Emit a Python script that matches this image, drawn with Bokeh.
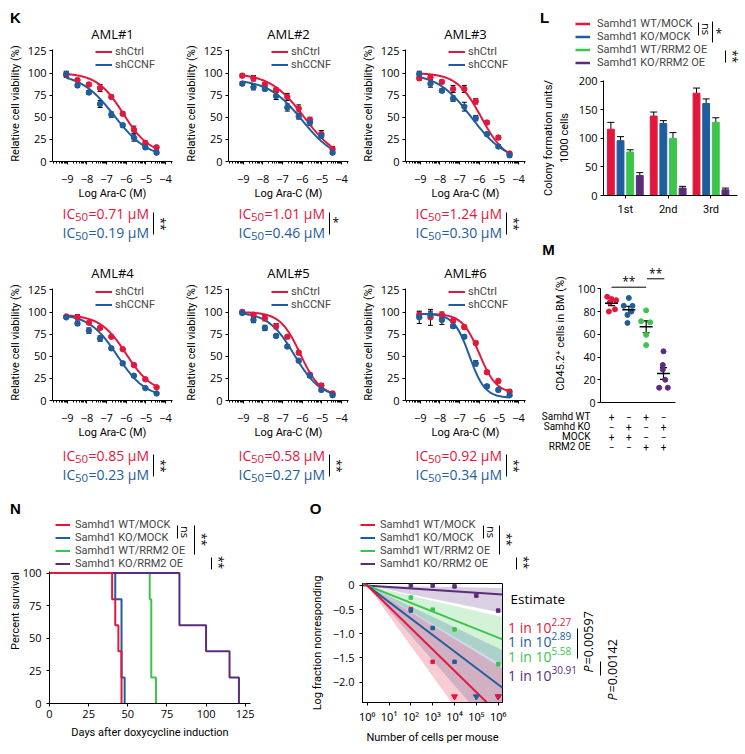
import numpy as np
import pandas as pd
from bokeh.plotting import figure
from bokeh.models import (ColumnDataSource, Label, Legend, LegendItem, Whisker,
                          TeeHead, Arrow, FixedTicker, Range1d)
from bokeh.layouts import row, column
from bokeh.embed import file_html
from bokeh.resources import INLINE

# ======================= DATA =======================
# ---- K: dose response ----
log_dose = [-9.05, -8.48, -7.90, -7.33, -6.76, -6.18, -5.61, -5.03, -4.46]
aml_names = ["AML#1", "AML#2", "AML#3", "AML#4", "AML#5", "AML#6"]
shctrl_viability = [
    [98, 92, 87, 83, 73, 54, 36, 21, 16],
    [97, 94, 87, 81, 73, 60, 47, 31, 14],
    [94, 95, 90, 82, 82, 68, 44, 27, 9],
    [95, 94, 88, 82, 72, 58, 40, 24, 15],
    [100, 97, 93, 84, 72, 54, 29, 17, 8],
    [97, 94, 97, 90, 83, 65, 32, 22, 10],
]
shctrl_sem = [
    [3, 2, 2, 4, 2, 2, 4, 2, 2],
    [2, 3, 2, 2, 4, 4, 3, 4, 3],
    [2, 2, 2, 4, 4, 3, 2, 2, 2],
    [1, 3, 1, 2, 1, 1, 1, 1, 1],
    [2, 2, 3, 3, 2, 2, 2, 2, 1],
    [3, 9, 3, 2, 2, 2, 2, 2, 2],
]
shccnf_viability = [
    [99, 86, 78, 65, 53, 41, 27, 16, 10],
    [88, 84, 82, 74, 61, 51, 44, 29, 10],
    [99, 88, 80, 71, 62, 49, 31, 17, 7],
    [94, 87, 79, 70, 59, 42, 28, 14, 8],
    [99, 91, 82, 73, 61, 45, 28, 12, 6],
    [94, 97, 91, 84, 72, 42, 16, 12, 6],
]
shccnf_sem = [
    [3, 2, 2, 4, 3, 2, 4, 2, 2],
    [2, 3, 2, 4, 4, 3, 3, 2, 2],
    [3, 4, 2, 3, 5, 3, 2, 2, 2],
    [1, 2, 3, 3, 2, 2, 1, 1, 1],
    [2, 3, 3, 2, 2, 2, 2, 2, 1],
    [7, 4, 5, 2, 2, 3, 2, 2, 1],
]
# fitted 4-parameter curves (top, bottom, logIC50, hill)
shctrl_fit = [(100, 8, -6.15, 0.65), (100, 0, -5.9, 0.5), (100, 0, -5.9, 0.7),
              (97, 8, -6.0, 0.65), (100, 5, -6.1, 0.85), (98, 8, -6.0, 1.0)]
shccnf_fit = [(100, 3, -6.6, 0.5), (93, 0, -6.0, 0.5), (100, 0, -6.4, 0.5),
              (98, 3, -6.45, 0.6), (100, 3, -6.4, 0.65), (98, 3, -6.5, 1.1)]
ic50_ctrl = ["0.71", "1.01", "1.24", "0.85", "0.58", "0.92"]
ic50_ccnf = ["0.19", "0.46", "0.30", "0.23", "0.27", "0.34"]
ic50_sig = ["**", "*", "**", "**", "**", "**"]
k_ticks = [-9, -8, -7, -6, -5, -4]
k_yticks = [0, 25, 50, 75, 100, 125]

# ---- L: colony formation ----
groups = ["Samhd1 WT/MOCK", "Samhd1 KO/MOCK", "Samhd1 WT/RRM2 OE", "Samhd1 KO/RRM2 OE"]
plating = ["1st", "2nd", "3rd"]
cfu_wt_mock = [116, 139, 179]
cfu_ko_mock = [96, 126, 161]
cfu_wt_rrm2 = [76, 100, 128]
cfu_ko_rrm2 = [35, 13, 10]
cfu_wt_mock_err = [12, 7, 9]
cfu_ko_mock_err = [7, 5, 8]
cfu_wt_rrm2_err = [4, 10, 8]
cfu_ko_rrm2_err = [5, 3, 3]

# ---- M: CD45.2+ chimerism ----
cd45_wt_mock = [93, 91, 90, 88, 82, 80]
cd45_ko_mock = [92, 85, 85, 80, 77, 70]
cd45_wt_rrm2 = [81, 71.5, 70.5, 59.5, 50.5]
cd45_ko_rrm2 = [45, 33, 29, 20, 13, 13]
jit_wt_mock = [-0.25, 0.0, 0.27, -0.1, 0.2, -0.15]
jit_ko_mock = [0.0, -0.29, 0.21, 0.15, -0.08, -0.08]
jit_wt_rrm2 = [0.0, -0.29, 0.23, 0.0, 0.0]
jit_ko_rrm2 = [0.0, -0.04, -0.04, 0.1, -0.25, 0.25]
m_rows = ["Samhd WT", "Samhd KO", "MOCK", "RRM2 OE"]
m_table = [["+", "\u2212", "+", "\u2212"],
           ["\u2212", "+", "\u2212", "+"],
           ["+", "+", "\u2212", "\u2212"],
           ["\u2212", "\u2212", "+", "+"]]

# ---- N: survival (days of death, 5 mice per group) ----
death_wt_mock = [40, 42, 44, 46, 46]
death_ko_mock = [42, 46, 46, 46, 48]
death_wt_rrm2 = [64, 65, 65, 65, 68]
death_ko_rrm2 = [83, 83, 100, 115, 121]
n_mice = 5

# ---- O: limiting dilution ----
cell_doses = [1e2, 1e3, 1e4, 1e5, 1e6]
lfn_wt_mock = [-0.49, -1.58, np.nan, np.nan, np.nan]
lfn_ko_mock = [-0.52, -0.88, -1.58, np.nan, np.nan]
lfn_wt_rrm2 = [-0.25, -0.50, -0.91, np.nan, -1.63]
lfn_ko_rrm2 = [0.0, 0.0, -0.02, -0.21, -0.52]
cens_wt_mock = [1e4, 1e6]
cens_ko_mock = [1e5, 1e6]
fit_at_1e6 = [-2.65, -2.05, -1.08, -0.18]           # fitted log fraction at 10^6 cells
ci_hi_1e6 = [-1.66, -1.30, -0.63, -0.05]
ci_lo_1e6 = [-3.76, -3.10, -1.60, -0.55]
estimate_exp = ["2.27", "2.89", "5.58", "30.91"]
p_values = ["0.00597", "0.00142"]

# ======================= STYLE / HELPERS =======================
H = 754
FONT = "Open Sans"
NARROW = "Roboto"
LEGFONT = "Roboto"
BOLD = "Liberation Sans"
RED, BLUE, GREEN, PURPLE = "#E3173D", "#1F5D9C", "#3DC44D", "#5B2B7C"
COLS = [RED, BLUE, GREEN, PURPLE]
MINUS = "\u2212"
ROT = -np.pi / 2


class Pane:
    """A figure plus the mapping from page pixels to its data coordinates."""

    def __init__(self, p, FL, FT, FR, FB, xr, yr, log_x=False):
        self.p, self.FL, self.FT, self.FR, self.FB = p, FL, FT, FR, FB
        self.xr, self.yr, self.log_x = xr, yr, log_x

    def X(self, px):
        a, b = self.xr
        if self.log_x:
            a, b = np.log10(a), np.log10(b)
            return 10 ** (a + (px - self.FL) / (self.FR - self.FL) * (b - a))
        return a + (px - self.FL) / (self.FR - self.FL) * (b - a)

    def Y(self, py):
        a, b = self.yr
        return a + (self.FB - py) / (self.FB - self.FT) * (b - a)

    @property
    def box(self):
        return row(self.p)     # own container: no frame alignment with siblings


def chart(cx0, cy0, cx1, cy1, FL, FT, FR, FB, xr, yr, log_x=False):
    kw = dict(x_axis_type="log") if log_x else {}
    p = figure(width=cx1 - cx0, height=cy1 - cy0, x_range=Range1d(*xr), y_range=Range1d(*yr),
               min_border_left=FL - cx0, min_border_right=cx1 - FR,
               min_border_top=FT - cy0, min_border_bottom=cy1 - FB,
               output_backend="svg", toolbar_location=None, title=None, **kw)
    p.grid.visible = False
    p.outline_line_color = None
    p.border_fill_color = "white"
    p.background_fill_color = "white"
    for ax in list(p.xaxis) + list(p.yaxis):
        ax.axis_line_color = "black"
        ax.major_tick_line_color = "black"
        ax.major_tick_out = 3
        ax.major_tick_in = 0
        ax.minor_tick_line_color = None
        ax.major_label_text_font = FONT
        ax.major_label_text_font_size = "11px"
        ax.major_label_text_color = "black"
        ax.axis_label_text_font = NARROW
        ax.axis_label_text_font_size = "11px"
        ax.axis_label_text_font_style = "normal"
        ax.axis_label_text_color = "black"
    return Pane(p, FL, FT, FR, FB, xr, yr, log_x)


def textpane(x0, y0, x1, y1):
    p = figure(width=x1 - x0, height=y1 - y0, x_range=Range1d(x0, x1),
               y_range=Range1d(H - y1, H - y0), min_border=0, x_axis_location=None,
               y_axis_location=None, output_backend="svg", toolbar_location=None, title=None)
    p.grid.visible = False
    p.outline_line_color = None
    p.border_fill_color = "white"
    p.background_fill_color = "white"
    return Pane(p, x0, y0, x1, y1, (x0, x1), (H - y1, H - y0))


def T(pn, px, py, text, size="12px", color="black", align="left", angle=0.0, font=FONT,
      fstyle="normal"):
    pn.p.add_layout(Label(x=pn.X(px), y=pn.Y(py), text=text, text_font_size=size,
                          text_color=color, text_align=align, text_baseline="middle",
                          angle=angle, text_font=font, text_font_style=fstyle))


def S(pn, px0, py0, px1, py1, w=1):
    pn.p.add_layout(Arrow(x_start=pn.X(px0), y_start=pn.Y(py0), x_end=pn.X(px1),
                          y_end=pn.Y(py1), start=None, end=None, line_color="black",
                          line_width=w))


def LEG(pn, labels, renderers, glyph_left, row_top, size, gw, standoff, ih):
    items = [LegendItem(label=lab, renderers=[r]) for lab, r in zip(labels, renderers)]
    bottom = row_top + ih * len(labels)
    pn.p.add_layout(Legend(items=items, location=(glyph_left - pn.FL, pn.FB - bottom),
                           padding=0, margin=0, spacing=0, glyph_width=gw, glyph_height=ih,
                           label_height=ih, label_standoff=standoff,
                           label_text_font_size=size, label_text_font=LEGFONT,
                           border_line_color=None, background_fill_alpha=0))


def swatches(pn, lw=2):
    # legend-only renderers: a single undefined point, so nothing is drawn in the pane
    return [pn.p.line(x=np.array([np.nan]), y=np.array([np.nan]), color=c, line_width=lw)
            for c in COLS]


def letter(pn, px, py, s):
    T(pn, px, py, s, size="15px", align="center", font=BOLD, fstyle="bold")


def hill(x, top, bottom, c, h):
    return bottom + (top - bottom) / (1 + 10 ** (h * (x - c)))


# ======================= K =======================
k_minor = [n + np.log10(k) for n in range(-10, -3) for k in range(2, 10)
           if -9.75 < n + np.log10(k) < -3.65]
cell_x = [(0, 178), (178, 355), (355, 539)]
frame_l = [52, 228, 405]
row_y = [dict(top=0, ct=42, ft=45, fb=163, cb=202, bot=244, title=33, leg=46.5, red=213,
              blue=232),
         dict(top=244, ct=281, ft=284, fb=402, cb=441, bot=490, title=272, leg=286.5, red=455,
              blue=474)]
k_cells = []
for i, name in enumerate(aml_names):
    r, c = divmod(i, 3)
    x0, x1 = cell_x[c]
    g = row_y[r]
    FL = frame_l[c]; FR = FL + 120
    top = textpane(x0, g["top"], x1, g["ct"])
    ch = chart(x0, g["ct"], x1, g["cb"], FL, g["ft"], FR, g["fb"], (-9.75, -3.65),
               (0, (g["fb"] - g["ft"]) / 0.9))
    bot = textpane(x0, g["cb"], x1, g["bot"])
    p = ch.p
    p.xaxis.ticker = FixedTicker(ticks=k_ticks, minor_ticks=k_minor)
    p.xaxis.minor_tick_line_color = "black"
    p.xaxis.minor_tick_out = 2
    p.xaxis.minor_tick_in = 0
    p.xaxis.major_label_overrides = {t: MINUS + str(-t) for t in k_ticks}
    p.xaxis.major_label_standoff = 10
    p.xaxis.axis_label_standoff = 1
    p.yaxis.ticker = FixedTicker(ticks=k_yticks)
    p.yaxis.bounds = (0, 127)
    p.yaxis.major_label_standoff = 3
    p.yaxis.axis_label_standoff = 3
    p.xaxis.axis_label = "Log Ara-C (M)"
    p.yaxis.axis_label = "Relative cell viability (%)"

    xs = np.linspace(log_dose[0], log_dose[-1], 150)
    l1 = p.line(xs, hill(xs, *shctrl_fit[i]), color=RED, line_width=2)
    l2 = p.line(xs, hill(xs, *shccnf_fit[i]), color=BLUE, line_width=2)
    for vals, errs, col in ((shctrl_viability[i], shctrl_sem[i], RED),
                            (shccnf_viability[i], shccnf_sem[i], BLUE)):
        v = np.array(vals, float); e = np.array(errs, float)
        src = ColumnDataSource(dict(x=log_dose, y=v, lo=v - e, hi=v + e))
        p.scatter("x", "y", source=src, size=5.5, color=col)
        p.add_layout(Whisker(source=src, base="x", lower="lo", upper="hi",
                             line_color="black", line_width=1,
                             upper_head=TeeHead(size=5, line_color="black", line_width=1),
                             lower_head=TeeHead(size=5, line_color="black", line_width=1)))
    LEG(ch, ["shCtrl", "shCCNF"], [l1, l2], FL + 43, g["leg"], "11px", 17, 3, 13)
    T(top, (FL + FR) / 2, g["title"], name, size="13px", align="center")
    if i == 0:
        letter(top, 15, 17, "K")
    x0t = FL + 10
    for yy, val, col in ((g["red"], ic50_ctrl[i], RED), (g["blue"], ic50_ccnf[i], BLUE)):
        T(bot, x0t, yy, "IC", size="14px", color=col)
        T(bot, x0t + 12.5, yy + 3, "50", size="11.5px", color=col)
        T(bot, x0t + 26, yy, "=" + val + " \u03bcM", size="14px", color=col)
    bx = FL + 101
    S(bot, bx, g["red"] - 1, bx, g["blue"] + 2)
    if ic50_sig[i] == "*":
        T(bot, bx + 3, (g["red"] + g["blue"]) / 2 - 1, "*", size="12px")
    else:
        T(bot, bx + 7, (g["red"] + g["blue"]) / 2 + 1, ic50_sig[i], size="12px", angle=ROT,
          align="center")
    k_cells.append(column(top.box, ch.box, bot.box))

# ======================= L =======================
L_top = textpane(539, 0, 745, 72)
L = chart(539, 72, 745, 238, 599, 80, 737, 195, (0.49, 0.49 + 138 / 44.1), (0, 115 / 0.5715))
offsets = [-0.3375, -0.1125, 0.1125, 0.3375]
series_vals = [cfu_wt_mock, cfu_ko_mock, cfu_wt_rrm2, cfu_ko_rrm2]
series_err = [cfu_wt_mock_err, cfu_ko_mock_err, cfu_wt_rrm2_err, cfu_ko_rrm2_err]
recs = []
for j, gname in enumerate(groups):
    for k, pl in enumerate(plating):
        recs.append(dict(group=gname, plating=pl, xpos=k + 1 + offsets[j],
                         val=series_vals[j][k], err=series_err[j][k], color=COLS[j]))
dfL = pd.DataFrame(recs)
dfL["upper"] = dfL["val"] + dfL["err"]
srcL = ColumnDataSource(dfL)
L.p.vbar(x="xpos", top="val", width=0.16, color="color", source=srcL)
L.p.add_layout(Whisker(source=srcL, base="xpos", lower="val", upper="upper", line_color="black",
                       line_width=1, lower_head=None,
                       upper_head=TeeHead(size=7, line_color="black", line_width=1)))
L.p.xaxis.ticker = FixedTicker(ticks=[1, 2, 3])
L.p.xaxis.major_label_overrides = {k + 1: pl for k, pl in enumerate(plating)}
L.p.xaxis.major_label_text_font = NARROW
L.p.xaxis.major_label_standoff = 4
L.p.yaxis.ticker = FixedTicker(ticks=[0, 50, 100, 150, 200])
L.p.yaxis.major_label_standoff = 3
L.p.yaxis.axis_label_standoff = 5
L.p.yaxis.axis_label = "Colony formation units/\n1000 cells"
LEG(L_top, groups, swatches(L_top, 2.5), 575, 16.5, "11px", 15, 7, 13)
S(L_top, 698, 22, 698, 35)
T(L_top, 706, 28.5, "ns", size="11px", angle=ROT, align="center")
S(L_top, 712, 21, 712, 42)
T(L_top, 715, 33, "*", size="12px")
S(L_top, 725, 50, 725, 62)
T(L_top, 732, 56, "**", size="12px", angle=ROT, align="center")
letter(L_top, 544, 17, "L")

# ======================= M =======================
M_top = textpane(539, 238, 745, 264)
M_xr = (0.365, 0.365 + 75 / 17.33)
M = chart(539, 264, 745, 410, 600, 264, 675, 402, M_xr, (0, 138 / 1.137))
M_bot = textpane(539, 410, 745, 490)
m_vals = [cd45_wt_mock, cd45_ko_mock, cd45_wt_rrm2, cd45_ko_rrm2]
m_jit = [jit_wt_mock, jit_ko_mock, jit_wt_rrm2, jit_ko_rrm2]
pts, summ = [], []
for j, (vals, jit) in enumerate(zip(m_vals, m_jit)):
    for v, d in zip(vals, jit):
        pts.append(dict(x=j + 1 + d, y=v, color=COLS[j]))
    a = np.array(vals, float)
    mean = a.mean(); sem = a.std(ddof=1) / np.sqrt(len(a))
    summ.append(dict(x=j + 1, mean=mean, lo=mean - sem, hi=mean + sem))
M.p.scatter("x", "y", source=ColumnDataSource(pd.DataFrame(pts)), size=5, color="color")
srcS = ColumnDataSource(pd.DataFrame(summ))
M.p.scatter("x", "mean", source=srcS, marker="dash", size=13, line_color="black",
            line_width=1.5)
M.p.add_layout(Whisker(source=srcS, base="x", lower="lo", upper="hi", line_color="black",
                       line_width=1.2,
                       upper_head=TeeHead(size=7, line_color="black", line_width=1.2),
                       lower_head=TeeHead(size=7, line_color="black", line_width=1.2)))
M.p.xaxis.ticker = FixedTicker(ticks=[])
M.p.xaxis.major_tick_out = 0
M.p.xaxis.major_label_standoff = 0
M.p.yaxis.ticker = FixedTicker(ticks=[0, 20, 40, 60, 80, 100])
M.p.yaxis.bounds = (0, 100)
M.p.yaxis.major_label_text_font_size = "10.5px"
M.p.yaxis.major_label_standoff = 2
M.p.yaxis.axis_label_standoff = 7
M.p.yaxis.axis_label = "CD45.2\u207a cells in BM (%)"


def m_px(xv):
    return M.FL + (xv - M_xr[0]) / (M_xr[1] - M_xr[0]) * (M.FR - M.FL)


S(M, m_px(1), 286.7, m_px(3), 286.7)
T(M, m_px(2), 281, "**", size="12px", align="center")
S(M, m_px(3.05), 278.3, m_px(4.05), 278.3)
T(M, m_px(3.55), 272.5, "**", size="12px", align="center")
for ri, (lab, signs) in enumerate(zip(m_rows, m_table)):
    py = 416 + ri * 10
    T(M_bot, 590, py, lab, size="10px", align="right", font=NARROW)
    for k, s in enumerate(signs):
        T(M_bot, m_px(k + 1), py, s, size="10px", align="center", font=NARROW)
letter(M_top, 548, 249, "M")

# ======================= N =======================
N_top = textpane(0, 490, 296, 518)
N = chart(0, 518, 296, 754, 49, 518, 250, 703, (0, 201 / 1.5656), (0, 185 / 1.304))


def km(deaths):
    t, s, alive = [0], [100.0], n_mice
    for d in sorted(set(deaths)):
        alive -= deaths.count(d)
        t.append(d); s.append(100.0 * alive / n_mice)
    return t, s


n_deaths = [death_wt_mock, death_ko_mock, death_wt_rrm2, death_ko_rrm2]
n_rend = [None] * 4
for j in [1, 2, 3, 0]:
    t, s = km(n_deaths[j])
    n_rend[j] = N.p.step(t, s, mode="after", color=COLS[j], line_width=2)
N.p.xaxis.ticker = FixedTicker(ticks=[0, 25, 50, 75, 100, 125])
N.p.yaxis.ticker = FixedTicker(ticks=[0, 25, 50, 75, 100])
N.p.yaxis.bounds = (0, 101)
N.p.xaxis.major_label_standoff = 3
N.p.xaxis.axis_label_standoff = 5
N.p.yaxis.major_label_standoff = 5
N.p.yaxis.axis_label_standoff = -2
N.p.xaxis.axis_label = "Days after doxycycline induction"
N.p.yaxis.axis_label = "Percent survival"
LEG(N, groups, n_rend, 55, 518, "11px", 15, 5, 13)
S(N, 177, 525, 177, 538)
T(N, 185, 531.5, "ns", size="11px", angle=ROT, align="center")
S(N, 194, 525, 194, 554)
T(N, 201, 539, "**", size="12px", angle=ROT, align="center")
S(N, 211, 557, 211, 569)
T(N, 218, 562, "**", size="12px", angle=ROT, align="center")
letter(N_top, 15, 507.5, "N")

# ======================= O =======================
O_top = textpane(296, 490, 745, 575)
o_xr = (10 ** -0.215, 10 ** 6.198)
O = chart(296, 575, 508, 754, 362, 583, 502, 702, o_xr, (-2.422, 0.041), log_x=True)
O_right = textpane(508, 575, 745, 754)
O.p.outline_line_color = "black"
xe = np.array(o_xr)
for j in [3, 2, 1, 0]:
    hi = ci_hi_1e6[j] / 6 * np.log10(xe)
    lo = ci_lo_1e6[j] / 6 * np.log10(xe)
    O.p.patch(list(xe) + list(xe[::-1]), list(hi) + list(lo[::-1]), color=COLS[j],
              fill_alpha=0.22, line_alpha=0)
for j in [3, 2, 1, 0]:
    O.p.line(xe, fit_at_1e6[j] / 6 * np.log10(xe), color=COLS[j], line_width=2)
o_vals = [lfn_wt_mock, lfn_ko_mock, lfn_wt_rrm2, lfn_ko_rrm2]
for j in range(4):
    O.p.scatter(cell_doses, o_vals[j], marker="square", size=3.5, color=COLS[j])
BOTTOM_MARK = -2.30
for cens, col in ((cens_ko_mock, BLUE), (cens_wt_mock, RED)):
    O.p.scatter(cens, [BOTTOM_MARK] * len(cens), marker="inverted_triangle", size=6, color=col)
O.p.xaxis.ticker = FixedTicker(ticks=[1, 10, 100, 1000, 10000, 100000, 1000000])
sup = "\u2070\u00b9\u00b2\u00b3\u2074\u2075\u2076"
O.p.xaxis.major_label_overrides = {10 ** k: "10" + sup[k] for k in range(7)}
O.p.xaxis.major_label_text_font = "Noto Sans"
O.p.xaxis.major_label_standoff = 3
O.p.xaxis.axis_label_standoff = 4
O.p.yaxis.ticker = FixedTicker(ticks=[0, -0.5, -1.0, -1.5, -2.0])
O.p.yaxis.major_label_overrides = {0: "0", -0.5: MINUS + "0.5", -1.0: MINUS + "1.0",
                                   -1.5: MINUS + "1.5", -2.0: MINUS + "2.0"}
O.p.yaxis.major_label_standoff = 5
O.p.yaxis.axis_label_standoff = 6
O.p.xaxis.axis_label = "Number of cells per mouse"
O.p.yaxis.axis_label = "Log fraction nonresponding"
LEG(O_top, groups, swatches(O_top), 360, 517.5, "11px", 15, 5, 13)
S(O_top, 483, 525, 483, 538)
T(O_top, 491, 531.5, "ns", size="11px", angle=ROT, align="center")
S(O_top, 499, 525, 499, 554)
T(O_top, 506, 539, "**", size="12px", angle=ROT, align="center")
S(O_top, 516, 557, 516, 569)
T(O_top, 523, 562, "**", size="12px", angle=ROT, align="center")
letter(O_top, 315, 508, "O")
T(O_right, 510, 598, "Estimate", size="13.5px")
est_y = [627, 641, 656, 675]
for j in range(4):
    T(O_right, 551, est_y[j], "1 in 10", size="14px", color=COLS[j], align="right")
    T(O_right, 551, est_y[j] - 6, estimate_exp[j], size="10px", color=COLS[j])
S(O_right, 577, 628, 577, 658)
T(O_right, 588, 672, "P", size="12.5px", angle=np.pi / 2, fstyle="italic")
T(O_right, 588, 664, "=" + p_values[0], size="12.5px", angle=np.pi / 2)
S(O_right, 600, 661, 600, 675)
T(O_right, 612, 700, "P", size="12.5px", angle=np.pi / 2, fstyle="italic")
T(O_right, 612, 692, "=" + p_values[1], size="12.5px", angle=np.pi / 2)

# ======================= LAYOUT =======================
layout = column(
    row(column(row(*k_cells[:3]), row(*k_cells[3:])),
        column(L_top.box, L.box, M_top.box, M.box, M_bot.box)),
    row(column(N_top.box, N.box), column(O_top.box, row(O.box, O_right.box))),
)
open("out.html", "w").write(file_html(layout, INLINE))
